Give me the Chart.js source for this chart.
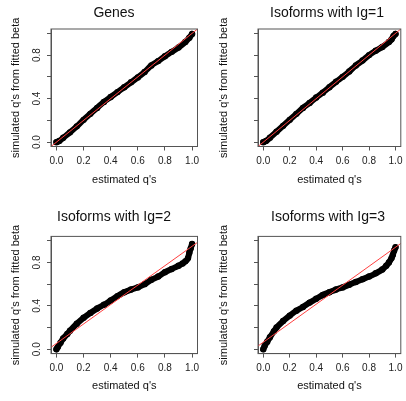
<!DOCTYPE html>
<html><head><meta charset="utf-8">
<script src="https://cdn.jsdelivr.net/npm/chart.js@4.4.1/dist/chart.umd.min.js"></script>
<style>
html,body{margin:0;padding:0;background:#fff;width:406px;height:401px;overflow:hidden;position:relative}
canvas{position:absolute}
</style></head><body>
<canvas id="c1" width="203" height="200" style="left:0;top:0"></canvas>
<canvas id="c2" width="203" height="200" style="left:203px;top:0"></canvas>
<canvas id="c3" width="203" height="197" style="left:0;top:204px"></canvas>
<canvas id="c4" width="203" height="197" style="left:203px;top:204px"></canvas>
<script>
// tick values
const qTicks = [0, 0.2, 0.4, 0.6, 0.8, 1.0];
const panelTitles = ["Genes", "Isoforms with Ig=1", "Isoforms with Ig=2", "Isoforms with Ig=3"];
const xLabel = "estimated q's";
const yLabel = "simulated q's from fitted beta";

// Genes
const genesX = [0, 0.02, 0.05, 0.1, 0.15, 0.2, 0.25, 0.3, 0.35, 0.4, 0.45, 0.5, 0.55, 0.6, 0.65, 0.7, 0.75, 0.8, 0.85, 0.9, 0.95, 0.98, 1.0];
const genesY = [0, 0.01, 0.04, 0.09, 0.145, 0.205, 0.26, 0.315, 0.37, 0.415, 0.46, 0.505, 0.55, 0.595, 0.645, 0.705, 0.745, 0.79, 0.83, 0.87, 0.92, 0.96, 0.995];
// Isoforms Ig=1
const ig1X = [0, 0.02, 0.05, 0.1, 0.15, 0.2, 0.25, 0.3, 0.35, 0.4, 0.45, 0.5, 0.55, 0.6, 0.65, 0.7, 0.75, 0.8, 0.85, 0.9, 0.95, 0.97, 0.985, 1.0];
const ig1Y = [0, 0.01, 0.04, 0.095, 0.15, 0.205, 0.26, 0.315, 0.36, 0.41, 0.455, 0.505, 0.555, 0.6, 0.65, 0.705, 0.75, 0.8, 0.84, 0.875, 0.92, 0.945, 0.975, 0.995];
// Isoforms Ig=2
const ig2X = [0, 0.01, 0.03, 0.05, 0.08, 0.1, 0.15, 0.2, 0.25, 0.3, 0.35, 0.4, 0.45, 0.5, 0.55, 0.6, 0.65, 0.7, 0.75, 0.8, 0.85, 0.9, 0.93, 0.95, 0.97, 0.98, 0.99, 1.0];
const ig2Y = [0, 0.02, 0.06, 0.10, 0.14, 0.17, 0.235, 0.29, 0.335, 0.375, 0.41, 0.45, 0.49, 0.525, 0.55, 0.57, 0.6, 0.64, 0.67, 0.71, 0.74, 0.77, 0.79, 0.81, 0.84, 0.89, 0.93, 0.97];
// Isoforms Ig=3
const ig3X = [0, 0.01, 0.03, 0.05, 0.08, 0.1, 0.15, 0.2, 0.25, 0.3, 0.35, 0.4, 0.45, 0.5, 0.55, 0.6, 0.65, 0.7, 0.75, 0.8, 0.85, 0.9, 0.93, 0.95, 0.97, 0.98, 0.99, 1.0];
const ig3Y = [0, 0.03, 0.07, 0.11, 0.165, 0.2, 0.26, 0.31, 0.355, 0.39, 0.43, 0.465, 0.5, 0.525, 0.55, 0.57, 0.595, 0.62, 0.645, 0.67, 0.70, 0.735, 0.77, 0.80, 0.84, 0.87, 0.91, 0.94];
// reference (red) lines, endpoints at the axis limits
const refLineX = [-0.04, 1.04];
const genesRefY = [-0.04, 1.04];
const ig1RefY = [-0.04, 1.04];
const ig2RefY = [0.018, 0.985];
const ig3RefY = [0.03, 0.975];

const FONT = "'Liberation Sans', Arial, Helvetica, sans-serif";

const boxPlugin = {
  id: 'rbox',
  afterDatasetsDraw(chart) {
    const {ctx, chartArea: a} = chart;
    ctx.save();
    ctx.strokeStyle = '#555';
    ctx.lineWidth = 1;
    ctx.strokeRect(a.left, a.top, a.right - a.left, a.bottom - a.top);
    ctx.restore();
  }
};

function makePanel(p) {
  const pts = p.xs.map((x, i) => ({x, y: p.ys[i]}));
  const ref = refLineX.map((x, i) => ({x, y: p.refY[i]}));
  const tSize = 14, tLH = tSize * 1.2;
  const aLH = 11 * 1.2;
  const pl = 2 * p.titleCX - p.R;   // layout padding so that the title centres at titleCX
  new Chart(document.getElementById(p.id), {
    type: 'scatter',
    data: {datasets: [
      {data: ref, showLine: true, borderColor: '#ff4040', borderWidth: 1, pointRadius: 0, order: 0},
      {data: pts, showLine: true, borderColor: '#000', borderWidth: 6, borderCapStyle: 'round', borderJoinStyle: 'round',
       cubicInterpolationMode: 'monotone', pointRadius: 2.6, pointBorderWidth: 1.2, pointBorderColor: '#000',
       pointBackgroundColor: 'rgba(0,0,0,0)', order: 1}
    ]},
    options: {
      responsive: false, animation: false, devicePixelRatio: 1,
      events: [],
      layout: {padding: {left: pl, top: 0, bottom: 0, right: p.W - p.R}},
      plugins: {
        legend: {display: false}, tooltip: {enabled: false},
        title: {display: true, text: p.title, fullSize: true, color: '#111',
          font: {family: FONT, size: tSize, weight: 'normal', lineHeight: 1.2},
          padding: {top: p.titleCY - tLH / 2, bottom: p.T - p.titleCY - tLH / 2}}
      },
      scales: {
        x: {
          type: 'linear', min: -0.04, max: 1.04,
          afterBuildTicks(s) { s.ticks = qTicks.map(v => ({value: v})); },
          afterFit(s) { s.height = p.H - p.B; s.paddingLeft = 0; s.paddingRight = 0; },
          ticks: {color: '#222', font: {family: FONT, size: 10}, padding: 5, maxRotation: 0, autoSkip: false,
            callback: v => v.toFixed(1)},
          grid: {display: true, drawOnChartArea: false, drawTicks: true, tickLength: 4, color: '#555', lineWidth: 1},
          border: {display: true, color: '#555', width: 1},
          title: {display: true, text: xLabel, color: '#111', font: {family: FONT, size: 11, lineHeight: 1.2},
            padding: {top: 0, bottom: p.H - p.xTitleCY - aLH / 2}}
        },
        y: {
          type: 'linear', min: -0.04, max: 1.04,
          afterBuildTicks(s) { s.ticks = qTicks.map(v => ({value: v})); },
          afterFit(s) { s.width = p.L - pl; s.paddingTop = 0; s.paddingBottom = 0; },
          ticks: {color: '#222', font: {family: FONT, size: 10}, padding: 3, minRotation: 90, maxRotation: 90,
            crossAlign: 'center', autoSkip: false,
            callback: v => (Math.round(v * 10) % 4 === 0 ? v.toFixed(1) : '')},
          grid: {display: true, drawOnChartArea: false, drawTicks: true, tickLength: 4, color: '#555', lineWidth: 1},
          border: {display: true, color: '#555', width: 1},
          title: {display: true, text: yLabel, color: '#111', font: {family: FONT, size: 11, lineHeight: 1.2},
            padding: {top: p.yTitleCX - pl - aLH / 2, bottom: 0}}
        }
      }
    },
    plugins: [boxPlugin]
  });
}

makePanel({id: 'c1', W: 203, H: 200, L: 51, R: 197.5, T: 29, B: 146.5, titleCX: 114, titleCY: 13, xTitleCY: 180, yTitleCX: 16,
  title: panelTitles[0], xs: genesX, ys: genesY, refY: genesRefY});
makePanel({id: 'c2', W: 203, H: 200, L: 55, R: 201.4, T: 29, B: 146.5, titleCX: 124, titleCY: 13, xTitleCY: 180, yTitleCX: 20.5,
  title: panelTitles[1], xs: ig1X, ys: ig1Y, refY: ig1RefY});
makePanel({id: 'c3', W: 203, H: 197, L: 51, R: 197.5, T: 32.4, B: 149.6, titleCX: 114, titleCY: 13.5, xTitleCY: 181.7, yTitleCX: 16,
  title: panelTitles[2], xs: ig2X, ys: ig2Y, refY: ig2RefY});
makePanel({id: 'c4', W: 203, H: 197, L: 55, R: 201.4, T: 32.4, B: 149.6, titleCX: 125, titleCY: 13.5, xTitleCY: 181.7, yTitleCX: 20.5,
  title: panelTitles[3], xs: ig3X, ys: ig3Y, refY: ig3RefY});
</script>
</body></html>
